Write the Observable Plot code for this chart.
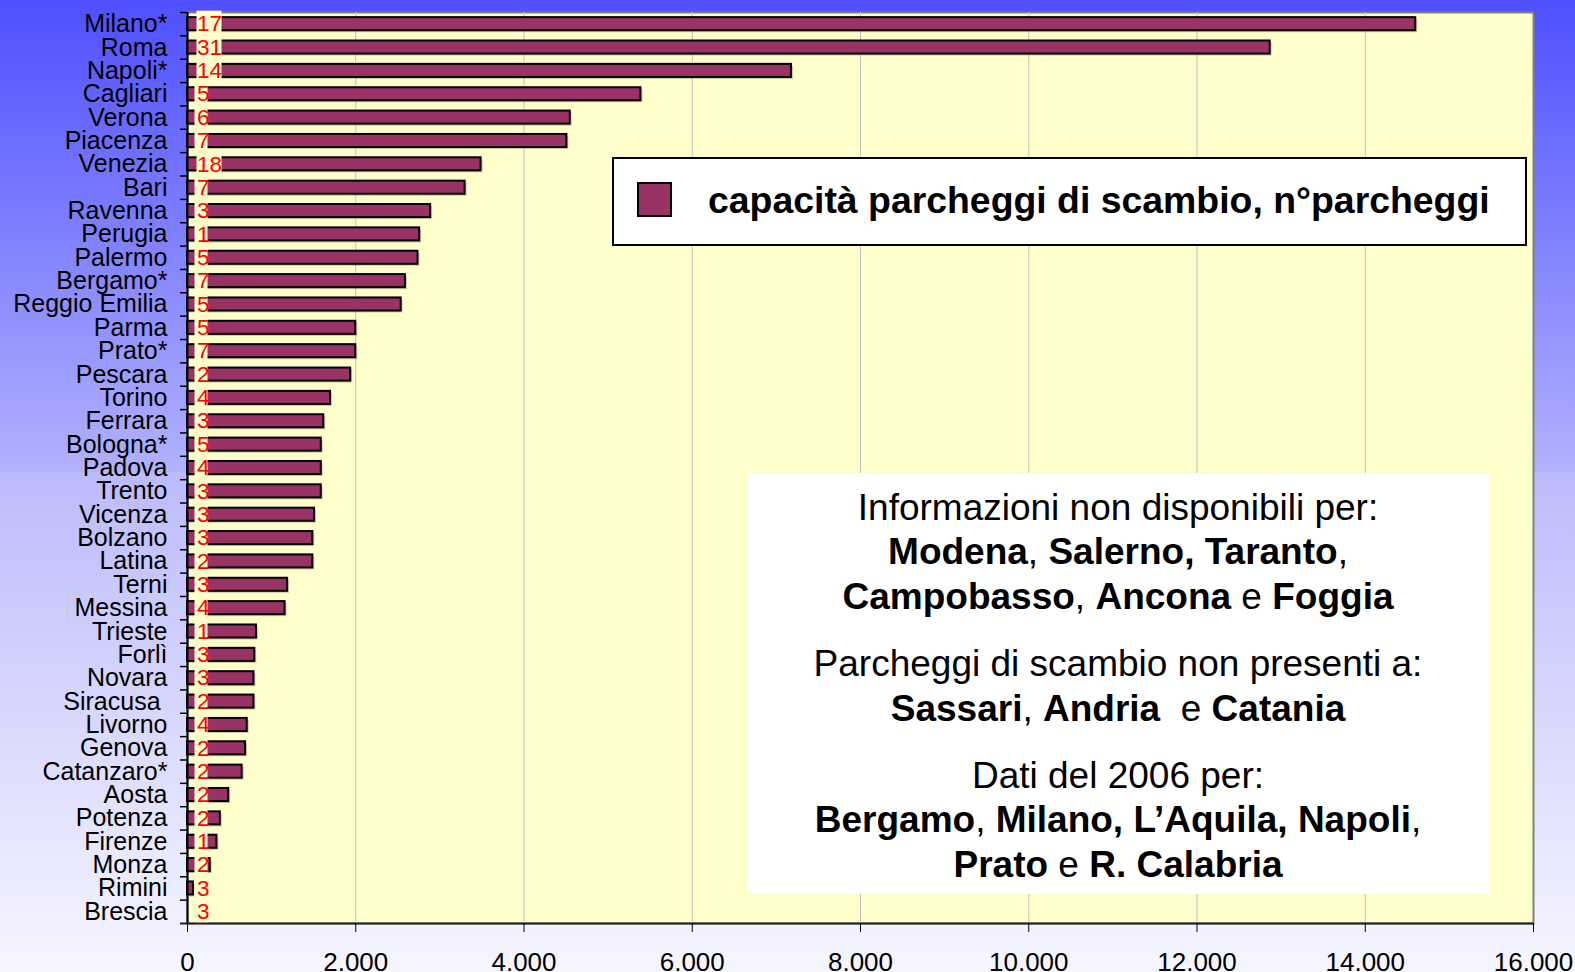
<!DOCTYPE html>
<html>
<head>
<meta charset="utf-8">
<script src="https://cdn.jsdelivr.net/npm/d3@7"></script>
<script src="https://cdn.jsdelivr.net/npm/@observablehq/plot@0.6"></script>
<style>
  html, body { margin: 0; padding: 0; width: 1575px; height: 972px; overflow: hidden; }
  body {
    position: relative;
    font-family: "Liberation Sans", Arial, sans-serif;
    background: linear-gradient(to bottom, #4f4fff 0%, #b1b1fd 48.5%, #bbbbfc 48.6%, #f6f6ff 100%);
  }
  #chart { position: absolute; left: 0; top: 0; }
  #chart svg text { white-space: pre; }
  .legend {
    position: absolute; left: 612px; top: 157px; width: 915px; height: 89px;
    box-sizing: border-box; background: #fff; border: 2px solid #000;
  }
  .swatch {
    position: absolute; left: 637px; top: 182px; width: 35px; height: 35px;
    box-sizing: border-box; background: #993366; border: 2px solid #000;
  }
  .legtext {
    position: absolute; left: 708px; top: 182px; font-size: 37.4px; line-height: 37px;
    font-weight: bold; color: #000; white-space: pre;
  }
  .note {
    position: absolute; left: 747px; top: 473px; width: 742px; height: 421px; background: #fff;
  }
  .line {
    position: absolute; left: 747px; width: 742px; text-align: center;
    font-size: 37px; line-height: 37px; color: #000; white-space: pre;
  }
</style>
</head>
<body>
<div id="chart"></div>
<div class="legend"></div>
<div class="swatch"></div>
<div class="legtext">capacità parcheggi di scambio, n°parcheggi</div>
<div class="note"></div>
<div class="line" style="top:489px">Informazioni non disponibili per:</div>
<div class="line" style="top:533px"><b>Modena</b>, <b>Salerno, Taranto</b>,</div>
<div class="line" style="top:578px"><b>Campobasso</b>, <b>Ancona</b> e <b>Foggia</b></div>
<div class="line" style="top:645px">Parcheggi di scambio non presenti a:</div>
<div class="line" style="top:690px"><b>Sassari</b>, <b>Andria</b>&nbsp; e <b>Catania</b></div>
<div class="line" style="top:757px">Dati del 2006 per:</div>
<div class="line" style="top:801px"><b>Bergamo</b>, <b>Milano, L’Aquila, Napoli</b>,</div>
<div class="line" style="top:846px"><b>Prato</b> e <b>R. Calabria</b></div>
<script>
const cities = ["Milano*","Roma","Napoli*","Cagliari","Verona","Piacenza","Venezia","Bari","Ravenna","Perugia",
  "Palermo","Bergamo*","Reggio Emilia","Parma","Prato*","Pescara","Torino","Ferrara","Bologna*","Padova",
  "Trento","Vicenza","Bolzano","Latina","Terni","Messina","Trieste","Forlì","Novara","Siracusa ",
  "Livorno","Genova","Catanzaro*","Aosta","Potenza","Firenze","Monza","Rimini","Brescia"];
const capacity = [14600,12870,7180,5390,4550,4510,3490,3300,2890,2760,
  2740,2590,2540,2000,2000,1940,1700,1620,1590,1590,
  1590,1510,1490,1490,1190,1160,820,800,790,790,
  710,690,650,490,390,350,270,70,0];
const parkings = [17,31,14,5,6,7,18,7,3,1,
  5,7,5,5,7,2,4,3,5,4,
  3,3,3,2,3,4,1,3,3,2,
  4,2,2,2,2,1,2,3,3];
const xTicks = [0,2000,4000,6000,8000,10000,12000,14000,16000];

const W = 1575, H = 972, mL = 187, mR = 42, mT = 12, mB = 49;
const plotW = W - mL - mR;
const step = (H - mT - mB) / cities.length;
const pad = 0.44;
const fmt = d3.formatLocale({decimal: ",", thousands: ".", grouping: [3], currency: ["", "€"]}).format(",");
const data = cities.map((c, i) => ({city: c, cap: capacity[i], n: parkings[i]}));
const withBar = data.filter(d => d.cap > 0);

const chart = Plot.plot({
  width: W, height: H,
  marginLeft: mL, marginRight: mR, marginTop: mT, marginBottom: mB,
  style: {background: "transparent", fontFamily: "'Liberation Sans', Arial, sans-serif", fontSize: "25px", color: "#000", overflow: "visible"},
  x: {domain: [0, 16000]},
  y: {domain: cities, paddingInner: pad, paddingOuter: pad / 2, round: false, align: 0.5},
  marks: [
    Plot.frame({fill: "#ffffcc", stroke: "#808080", strokeWidth: 2}),
    Plot.ruleX(xTicks.slice(1, -1), {stroke: "#c0c0c0", strokeWidth: 1}),
    Plot.barX(withBar, {x: "cap", y: "city", fill: "#000", fillOpacity: 0.2, dx: 2, dy: 2}),
    Plot.barX(withBar, {x: "cap", y: "city", fill: "#993366", stroke: "#000", strokeWidth: 2}),
    Plot.barX(data.filter(d => d.n < 10), {x1: 0, x2: 0, y: "city", fill: "#ffffcc",
      insetLeft: 7.5, insetRight: -20.5, insetTop: -6.5, insetBottom: -6.5}),
    Plot.barX(data.filter(d => d.n >= 10), {x1: 0, x2: 0, y: "city", fill: "#ffffcc",
      insetLeft: 9.5, insetRight: -34.5, insetTop: -6.5, insetBottom: -6.5}),
    Plot.text(data, {x: 0, y: "city", text: d => String(d.n), dx: 9.5, textAnchor: "start", fill: "#ff0000", fontSize: 22.5}),
    Plot.ruleX([0], {stroke: "#000", strokeWidth: 2}),
    Plot.ruleY(cities.slice(-1), {y: d => d, dy: step / 2, stroke: "#222", strokeWidth: 2, insetLeft: -7}),
    Plot.ruleY(cities, {y: d => d, dy: -step / 2, stroke: "#000", strokeWidth: 1.5, insetLeft: -7, insetRight: plotW}),
    Plot.axisX({ticks: xTicks, tickSize: 9, tickPadding: 20, tickFormat: fmt, fontSize: 26, stroke: "#000", label: null}),
    Plot.axisY({tickSize: 0, tickPadding: 20, fontSize: 25, label: null})
  ]
});
document.getElementById("chart").appendChild(chart);
</script>
</body>
</html>
